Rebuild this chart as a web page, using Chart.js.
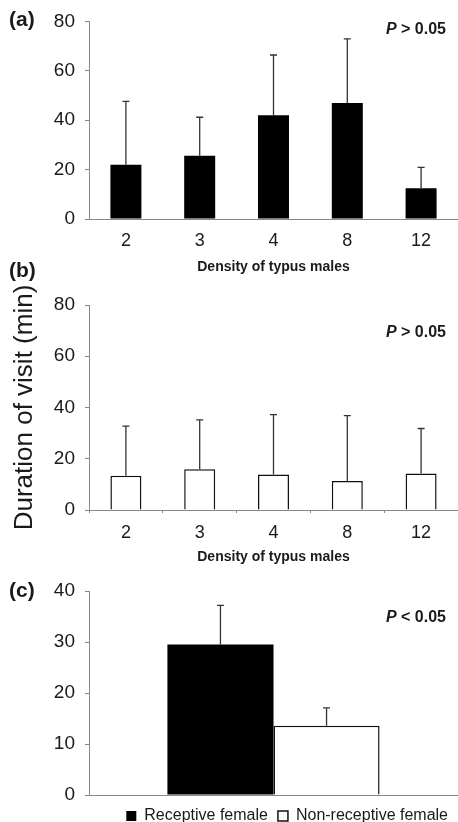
<!DOCTYPE html>
<html>
<head>
<meta charset="utf-8">
<script src="https://cdn.jsdelivr.net/npm/chart.js@4.4.1/dist/chart.umd.min.js"></script>
<style>
  html, body { margin: 0; padding: 0; background: #fff; overflow: hidden; }
  #wrap { position: relative; width: 458px; height: 822px; font-family: "Liberation Sans", Arial, sans-serif; color: #1a1a1a; }
  canvas { position: absolute; left: 0; }
  .lbl { position: absolute; left: 9px; font-weight: bold; font-size: 21px; line-height: 1; }
  .pval { position: absolute; right: 12px; font-weight: bold; font-size: 16px; line-height: 1; }
</style>
</head>
<body>
<div id="wrap">
  <canvas id="chartA" width="458" height="276" style="top:0px"></canvas>
  <canvas id="chartB" width="458" height="316" style="top:250px"></canvas>
  <canvas id="chartC" width="458" height="269" style="top:565px"></canvas>
  <div class="lbl" style="top:8px">(a)</div>
  <div class="lbl" style="top:259px">(b)</div>
  <div class="lbl" style="top:579px">(c)</div>
  <div class="pval" style="top:21px"><i>P</i> &gt; 0.05</div>
  <div class="pval" style="top:324px"><i>P</i> &gt; 0.05</div>
  <div class="pval" style="top:609px"><i>P</i> &lt; 0.05</div>
</div>
<script>
// data (means and upper error bar lengths)
const densities = ["2", "3", "4", "8", "12"];
const receptiveMean = [22, 25.6, 42, 47, 12.5];
const receptiveErr  = [25.6, 15.6, 24.4, 25.9, 8.4];
const nonRecMean    = [13.4, 15.9, 13.9, 11.3, 14.2];
const nonRecErr     = [19.3, 19.3, 23.3, 25.5, 17.6];
const femaleTypes   = ["Receptive female", "Non-receptive female"];
const femaleMean    = [29.5, 13.6];
const femaleErr     = [7.7, 3.5];
const densityMax = 80, densityStep = 20;
const femaleMax  = 40, femaleStep  = 10;

const FONT = "'Liberation Sans', Arial, sans-serif";
const INK = "#1a1a1a";
const AXIS = "#888";

Chart.defaults.font.family = FONT;
Chart.defaults.color = INK;
Chart.defaults.animation = false;

// upper-only error bars with a small cap
const errorBars = {
  id: "errorBars",
  afterDatasetsDraw(chart) {
    const ctx = chart.ctx, y = chart.scales.y;
    chart.data.datasets.forEach((ds, di) => {
      const meta = chart.getDatasetMeta(di);
      meta.data.forEach((bar, i) => {
        const top = y.getPixelForValue(ds.data[i] + ds.errors[i]);
        ctx.save();
        ctx.strokeStyle = "#333";
        ctx.lineWidth = 1.3;
        ctx.beginPath();
        ctx.moveTo(bar.x, bar.y);
        ctx.lineTo(bar.x, top);
        ctx.moveTo(bar.x - 3.5, top);
        ctx.lineTo(bar.x + 3.5, top);
        ctx.stroke();
        ctx.restore();
      });
    });
  }
};

function yScale(max, step, title) {
  return {
    min: 0, max: max,
    afterFit: s => { s.width = 89; },
    ticks: { stepSize: step, padding: 10, color: INK, font: { size: 19 } },
    grid: { drawOnChartArea: false, tickLength: 4, color: AXIS },
    border: { color: AXIS, width: 1 },
    title: title ? { display: true, text: title, color: INK, font: { size: 26 }, padding: { top: 9 } } : { display: false }
  };
}

function xScale(height, tickLen, pad) {
  return {
    afterFit: s => { s.height = height; },
    ticks: { padding: pad, color: INK, font: { size: 18 } },
    grid: { drawOnChartArea: false, drawTicks: tickLen > 0, tickLength: tickLen, color: AXIS },
    border: { color: AXIS, width: 1 },
    title: { display: true, text: "Density of typus males", color: INK, font: { size: 14, weight: "bold" }, padding: 0 }
  };
}

new Chart(document.getElementById("chartA"), {
  type: "bar",
  data: {
    labels: densities,
    datasets: [{ data: receptiveMean, errors: receptiveErr, backgroundColor: "#000", borderWidth: 0,
                 barPercentage: 0.42, categoryPercentage: 1 }]
  },
  options: {
    responsive: false,
    layout: { padding: { top: 16, right: 0, bottom: 0, left: 0 } },
    plugins: { legend: { display: false }, tooltip: { enabled: false } },
    scales: { x: xScale(57, 0, 11), y: yScale(densityMax, densityStep) }
  },
  plugins: [errorBars]
});

new Chart(document.getElementById("chartB"), {
  type: "bar",
  data: {
    labels: densities,
    datasets: [{ data: nonRecMean, errors: nonRecErr, backgroundColor: "#fff", borderColor: "#111", borderWidth: 1.5,
                 barPercentage: 0.42, categoryPercentage: 1 }]
  },
  options: {
    responsive: false,
    layout: { padding: { top: 55, right: 0, bottom: 0, left: 0 } },
    plugins: { legend: { display: false }, tooltip: { enabled: false } },
    scales: { x: xScale(56, 3, 9), y: yScale(densityMax, densityStep, "Duration of visit (min)") }
  },
  plugins: [errorBars]
});

new Chart(document.getElementById("chartC"), {
  type: "bar",
  data: {
    labels: [""],
    datasets: [
      { label: femaleTypes[0], data: [femaleMean[0]], errors: [femaleErr[0]], backgroundColor: "#000", borderColor: "#000",
        borderWidth: 0, barPercentage: 1, categoryPercentage: 0.575 },
      { label: femaleTypes[1], data: [femaleMean[1]], errors: [femaleErr[1]], backgroundColor: "#fff", borderColor: "#111",
        borderWidth: 1.5, barPercentage: 1, categoryPercentage: 0.575 }
    ]
  },
  options: {
    responsive: false,
    layout: { padding: { top: 26, right: 0, bottom: 0, left: 0 } },
    plugins: {
      tooltip: { enabled: false },
      legend: {
        position: "bottom", align: "end",
        labels: { boxWidth: 10, boxHeight: 10, padding: 10, color: INK, font: { size: 16 } }
      }
    },
    scales: {
      x: {
        afterFit: s => { s.height = 3; },
        ticks: { display: false },
        grid: { display: false },
        border: { color: AXIS, width: 1 }
      },
      y: yScale(femaleMax, femaleStep)
    }
  },
  plugins: [errorBars]
});
</script>
</body>
</html>
